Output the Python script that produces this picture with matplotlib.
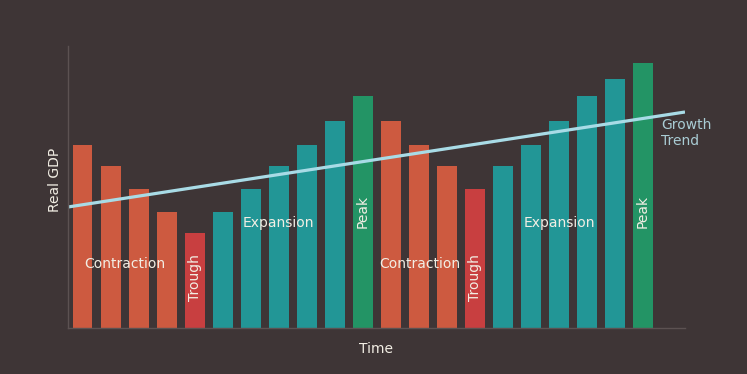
import matplotlib.pyplot as plt

# bar heights (arbitrary GDP units)
phases = ['c', 'c', 'c', 'c', 't', 'e', 'e', 'e', 'e', 'e', 'p',
          'c', 'c', 'c', 't', 'e', 'e', 'e', 'e', 'e', 'p']
gdp = [18.3, 16.2, 13.9, 11.6, 9.5, 11.6, 13.9, 16.2, 18.3, 20.7, 23.2,
       20.7, 18.3, 16.2, 13.9, 16.2, 18.3, 20.7, 23.2, 24.9, 26.5]
trend_x = [-0.52, 21.5]
trend_y = [12.1, 21.6]

phase_colors = {'c': '#cd5a40', 't': '#c83f40', 'e': '#229696', 'p': '#239465'}
bg = '#3e3536'
txt = '#f2eee4'

fig = plt.figure(figsize=(7.47, 3.74), dpi=100, facecolor=bg)
ax = fig.add_axes([0.091, 0.123, 0.826, 0.754], facecolor=bg)

x = list(range(len(gdp)))
ax.bar(x, gdp, width=0.71, color=[phase_colors[p] for p in phases])
ax.plot(trend_x, trend_y, color='#a8dbe6', lw=2.3, solid_capstyle='butt')

ax.set_xlim(-0.52, 21.5)
ax.set_ylim(0, 28.2)
ax.set_xticks([])
ax.set_yticks([])
for s in ['top', 'right']:
    ax.spines[s].set_visible(False)
for s in ['left', 'bottom']:
    ax.spines[s].set_color('#5c5252')
    ax.spines[s].set_linewidth(1)

ax.set_xlabel('Time', color=txt, fontsize=10, labelpad=10)
ax.set_ylabel('Real GDP', color=txt, fontsize=10)
ax.yaxis.set_label_coords(-0.01, 0.525)

# phase labels
ax.text(1.5, 6.4, 'Contraction', color=txt, fontsize=10, ha='center', va='center')
ax.text(4, 5.05, 'Trough', color=txt, fontsize=10, ha='center', va='center', rotation=90)
ax.text(7, 10.5, 'Expansion', color=txt, fontsize=10, ha='center', va='center')
ax.text(10, 11.7, 'Peak', color=txt, fontsize=10, ha='center', va='center', rotation=90)
ax.text(12.05, 6.4, 'Contraction', color=txt, fontsize=10, ha='center', va='center')
ax.text(14, 5.05, 'Trough', color=txt, fontsize=10, ha='center', va='center', rotation=90)
ax.text(17, 10.5, 'Expansion', color=txt, fontsize=10, ha='center', va='center')
ax.text(20, 11.7, 'Peak', color=txt, fontsize=10, ha='center', va='center', rotation=90)
ax.text(20.65, 19.5, 'Growth\nTrend', color='#a9ccd4', fontsize=10, ha='left', va='center',
        linespacing=1.2, clip_on=False)

fig.savefig('out.png', dpi=100, facecolor=bg)
